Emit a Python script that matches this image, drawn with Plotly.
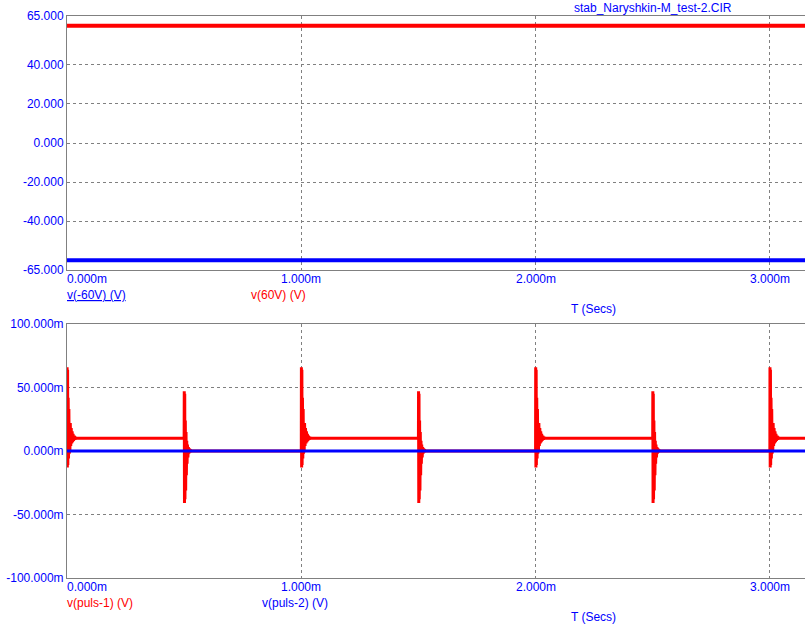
import plotly.graph_objects as go
from plotly.subplots import make_subplots

# ---------------- data ----------------
title_text = "stab_Naryshkin-M_test-2.CIR"

# top panel: supply rails (V)
rail_t = [0.0, 3.15e-3]
v_pos60 = [60.0, 60.0]
v_neg60 = [-60.0, -60.0]

# bottom panel: pulse outputs (V)
rise_edges_ms = [0.0, 1.0, 2.0, 3.0]
fall_edges_ms = [0.5, 1.5, 2.5]
end_ms = 3.15
level_high_mv = 10.0
level_low_mv = 0.0

# ringing after a rising edge (offset in us, value in mV)
ring_rise_dt_us = [0.0, 0.5, 1.5, 2.5, 3.5, 5.0, 6.5, 8.0, 9.5, 11.0, 12.5, 14.0,
                   16.0, 18.0, 20.0, 22.0, 24.0, 26.0, 28.0, 31.0, 34.0, 37.0, 40.0]
ring_rise_mv = [0.0, 66.0, -13.0, 64.0, -11.0, 42.0, -6.0, 33.0, -2.0, 26.0, 1.0, 22.0,
                4.0, 18.0, 6.0, 15.5, 7.0, 13.5, 8.0, 12.0, 9.0, 10.8, 10.0]

# ringing after a falling edge (offset in us, value in mV)
ring_fall_dt_us = [0.0, 0.5, 1.5, 2.5, 3.5, 5.0, 6.5, 8.0, 9.5, 11.0, 12.5, 14.0,
                   16.0, 18.0, 20.0, 22.0, 25.0, 28.0, 32.0]
ring_fall_mv = [10.0, 47.0, -41.0, 45.0, -38.0, 24.0, -31.0, 15.0, -19.0, 8.0, -10.0, 5.0,
                -5.0, 3.0, -2.0, 1.5, -1.0, 0.5, 0.0]

puls2_t = [0.0, 3.15e-3]
puls2_v = [0.0, 0.0]

top_ticks = [-65, -40, -20, 0, 20, 40, 65]
top_ticktext = ["-65.000", "-40.000", "-20.000", "0.000", "20.000", "40.000", "65.000"]
bot_ticks = [-0.1, -0.05, 0.0, 0.05, 0.1]
bot_ticktext = ["-100.000m", "-50.000m", "0.000m", "50.000m", "100.000m"]
x_ticks = [0.0, 1e-3, 2e-3, 3e-3]
x_ticktext = ["0.000m", "1.000m", "2.000m", "3.000m"]

# ---------------- assemble pulse-1 trace ----------------
events = sorted([(t, "r") for t in rise_edges_ms] + [(t, "f") for t in fall_edges_ms])
p1_t, p1_v = [], []
for i, (te, kind) in enumerate(events):
    dts, vals = (ring_rise_dt_us, ring_rise_mv) if kind == "r" else (ring_fall_dt_us, ring_fall_mv)
    for dt, v in zip(dts, vals):
        p1_t.append((te + dt / 1000.0) / 1000.0)
        p1_v.append(v / 1000.0)
    nxt = events[i + 1][0] if i + 1 < len(events) else end_ms
    lvl = level_high_mv if kind == "r" else level_low_mv
    p1_t.append(nxt / 1000.0 - 1e-9)
    p1_v.append(lvl / 1000.0)

RED = "#FF0000"
BLUE = "#0000FF"
GRAY = "#808080"
FONT = "Liberation Sans, Arial, sans-serif"

fig = make_subplots(rows=2, cols=1, shared_xaxes=False, vertical_spacing=0.096)

fig.add_trace(go.Scatter(x=rail_t, y=v_pos60, mode="lines", line=dict(color=RED, width=4)), row=1, col=1)
fig.add_trace(go.Scatter(x=rail_t, y=v_neg60, mode="lines", line=dict(color=BLUE, width=4)), row=1, col=1)
fig.add_trace(go.Scatter(x=p1_t, y=p1_v, mode="lines", line=dict(color=RED, width=3)), row=2, col=1)
fig.add_trace(go.Scatter(x=puls2_t, y=puls2_v, mode="lines", line=dict(color=BLUE, width=3)), row=2, col=1)

xcommon = dict(range=[0, 3.15e-3], showline=True, linecolor=GRAY, linewidth=1, mirror=True,
               showgrid=True, gridcolor=GRAY, griddash="3px,3px", gridwidth=1, automargin=False,
               tickvals=x_ticks, showticklabels=False, ticks="", zeroline=False)
fig.update_xaxes(**xcommon)
ycommon = dict(showline=True, linecolor=GRAY, linewidth=1, mirror=True, automargin=False,
               showgrid=True, gridcolor=GRAY, griddash="3px,3px", gridwidth=1,
               ticks="", zeroline=False, tickfont=dict(family=FONT, size=12, color=BLUE))
fig.update_yaxes(range=[-65, 65], tickvals=top_ticks, ticktext=top_ticktext, row=1, col=1, **ycommon)
fig.update_yaxes(range=[-0.1, 0.1], tickvals=bot_ticks, ticktext=bot_ticktext, row=2, col=1, **ycommon)

fig.update_layout(
    width=805, height=626, showlegend=False,
    plot_bgcolor="white", paper_bgcolor="white",
    margin=dict(l=67, r=0, t=16, b=48, autoexpand=False),
    font=dict(family=FONT, size=12, color=BLUE),
)
fig.layout.yaxis.domain = [0.548, 1.0]
fig.layout.yaxis2.domain = [0.0, 0.452]

ann = []
for xa, ya in (("x", "y domain"), ("x2", "y2 domain")):
    for i, (tv, tt) in enumerate(zip(x_ticks, x_ticktext)):
        ann.append(dict(x=tv, y=0, xref=xa, yref=ya, text=tt, showarrow=False,
                        xanchor="left" if i == 0 else "center", yanchor="top", yshift=0,
                        xshift=-2 if i == 0 else 0,
                        font=dict(family=FONT, size=12, color=BLUE)))

def lab(text, x, y, color, anchor="left"):
    ann.append(dict(x=x, y=y, xref="paper", yref="paper", text=text, showarrow=False,
                    xanchor=anchor, yanchor="middle", xshift=-1 if anchor == "left" else 0,
                    font=dict(family=FONT, size=12, color=color)))

H = 562.0
def py(pix):
    return (578 - pix) / H
def px(pix):
    return (pix - 67) / 738.0

lab(title_text, px(653), py(8), BLUE, "center")
lab("<u>v(-60V) (V)</u>", px(66), py(295), BLUE)
lab("v(60V) (V)", px(278), py(295), RED, "center")
lab("T (Secs)", px(593), py(309), BLUE, "center")
lab("v(puls-1) (V)", px(66), py(603), RED)
lab("v(puls-2) (V)", px(295), py(603), BLUE, "center")
lab("T (Secs)", px(593), py(617), BLUE, "center")

fig.update_layout(annotations=ann)
fig.write_html("out.html", config={"displayModeBar": False},
               post_script="document.body.style.margin='0';document.body.style.overflow='hidden';")
